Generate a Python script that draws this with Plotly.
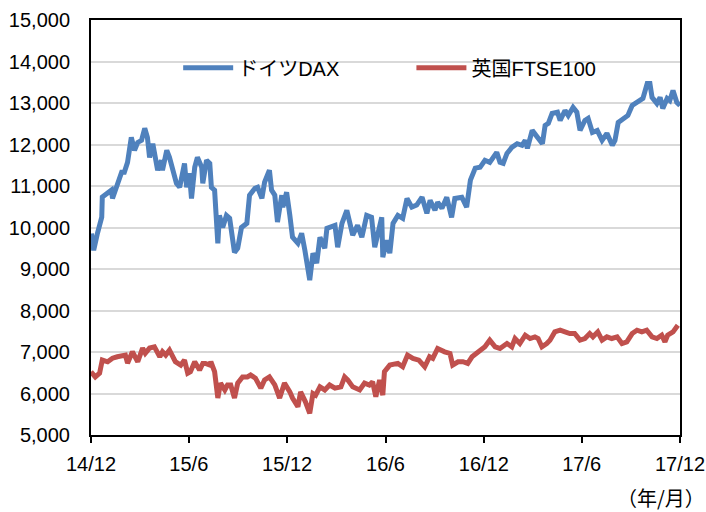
import pandas as pd
import plotly.graph_objects as go

START = "2014-12-01"

# Day offsets from 2014-12-01 and index levels
dax_days = [1, 5, 12, 20, 21, 29, 38, 40, 47, 57, 62, 68, 75, 81, 87, 94, 100, 105, 109, 115,
            124, 131, 133, 141, 146, 152, 159, 165, 169, 174, 178, 183, 187, 193, 198, 206, 208,
            215, 221, 224, 230, 236, 239, 245, 252, 258, 267, 273, 280, 290, 295, 305, 310, 318,
            323, 332, 336, 342, 347, 355, 357, 364, 370, 375, 385, 392, 398, 407, 413, 420, 426,
            435, 439, 448, 454, 459, 467, 476, 481, 487, 496, 504, 513, 522, 528, 534, 541, 543,
            550, 556, 562, 571, 580, 588, 597, 606, 616, 625, 631, 640, 645, 653, 662, 671, 677,
            690, 699, 706, 715, 724, 733, 742, 755, 761, 767, 774, 783, 793, 802, 808, 812, 821,
            830, 840, 845, 851, 858, 868, 873, 882, 888, 897, 904, 910, 919, 925, 933, 942, 951,
            960, 970, 975, 981, 990, 999, 1007, 1016, 1027, 1035, 1040, 1044, 1053, 1059, 1064,
            1072, 1077, 1083, 1090, 1096]
dax_vals = [9855, 9450, 9860, 10250, 10735, 10820, 10900, 10700, 10970, 11330, 11330, 11570,
            12170, 11860, 12050, 12100, 12390, 12170, 11690, 12020, 11380, 11620, 11380, 11860,
            11690, 11380, 11065, 10970, 11210, 11545, 10970, 11310, 10700, 11450, 11690, 11450,
            11065, 11620, 11545, 10970, 10900, 9620, 10290, 10000, 10290, 10220, 9400, 9500,
            10000, 10100, 10780, 10945, 10970, 10700, 11090, 11380, 10900, 10780, 10130, 10780,
            10490, 10850, 10290, 9765, 9620, 9860, 9450, 8730, 9380, 9140, 9765, 9500, 9980,
            10005, 10050, 9525, 10100, 10415, 10175, 9815, 10050, 9765, 10290, 10245, 9525, 9860,
            10245, 9285, 9690, 9380, 10100, 10290, 10220, 10700, 10490, 10540, 10730, 10340,
            10655, 10415, 10610, 10465, 10730, 10245, 10700, 10730, 10490, 11140, 11430, 11450,
            11620, 11570, 11810, 11570, 11545, 11785, 11930, 12020, 11980, 12100, 11905, 12340,
            12170, 12020, 12460, 12510, 12750, 12780, 12580, 12820, 12700, 12895, 12780, 12340,
            12580, 12630, 12290, 12340, 12100, 12270, 11980, 12100, 12530, 12630, 12700, 12940,
            13015, 13110, 13470, 13470, 13135, 12990, 13135, 12870, 13110, 13060, 13300, 13015,
            12940]

ftse_days = [0, 8, 16, 21, 31, 40, 49, 59, 64, 68, 77, 87, 96, 101, 109, 118, 128, 133, 139,
             146, 152, 157, 167, 174, 180, 185, 193, 202, 208, 213, 221, 223, 230, 236, 241, 249,
             254, 260, 267, 273, 282, 291, 297, 306, 316, 323, 332, 342, 351, 360, 370, 375, 385,
             390, 399, 407, 413, 418, 426, 435, 444, 454, 465, 472, 478, 487, 500, 509, 518, 524,
             530, 537, 543, 546, 556, 571, 580, 589, 599, 610, 621, 630, 636, 645, 658, 668, 673,
             683, 692, 701, 709, 720, 733, 742, 752, 761, 774, 783, 789, 798, 808, 817, 826, 832,
             839, 848, 854, 863, 873, 882, 891, 900, 910, 919, 928, 934, 943, 951, 960, 969, 979,
             988, 997, 1007, 1016, 1025, 1034, 1044, 1053, 1062, 1068, 1073, 1083, 1092]
ftse_vals = [6523, 6400, 6490, 6805, 6763, 6850, 6885, 6925, 6925, 6730, 7005, 6765, 7095,
             6970, 7095, 7125, 6885, 7005, 6925, 7045, 6885, 6765, 6685, 6805, 6490, 6525, 6765,
             6565, 6725, 6725, 6685, 6765, 6525, 5890, 6250, 6085, 6205, 6205, 5890, 6250, 6400,
             6400, 6445, 6370, 6130, 6325, 6400, 6205, 5890, 6250, 6040, 5890, 5680, 6040, 5800,
             5520, 6000, 5960, 6160, 6085, 6205, 6130, 6160, 6400, 6325, 6160, 6085, 6250, 6205,
             6280, 5920, 6325, 5960, 6525, 6685, 6725, 6645, 6925, 6845, 6805, 6645, 6885, 6845,
             7085, 7005, 6965, 6685, 6765, 6765, 6725, 6885, 7005, 7125, 7285, 7125, 7085, 7205,
             7125, 7325, 7205, 7405, 7325, 7365, 7325, 7125, 7205, 7285, 7485, 7525, 7485, 7445,
             7445, 7285, 7325, 7445, 7365, 7485, 7285, 7365, 7325, 7365, 7205, 7245, 7445, 7525,
             7485, 7525, 7365, 7325, 7405, 7245, 7405, 7485, 7645]

tick_dates = ["2014-12-01", "2015-06-01", "2015-12-01", "2016-06-01", "2016-12-01",
              "2017-06-01", "2017-12-01"]
tick_text = ["14/12", "15/6", "15/12", "16/6", "16/12", "17/6", "17/12"]

start = pd.Timestamp(START)
dax_x = [start + pd.Timedelta(days=d) for d in dax_days]
ftse_x = [start + pd.Timedelta(days=d) for d in ftse_days]

FONT = "Liberation Sans, Arial, Noto Sans CJK JP, sans-serif"
CJK = "Noto Sans CJK SC"

fig = go.Figure()
fig.add_trace(go.Scatter(x=dax_x, y=dax_vals, mode="lines", name="ドイツDAX",
                         line=dict(color="#4F81BD", width=5), legend="legend",
                         showlegend=True))
fig.add_trace(go.Scatter(x=ftse_x, y=ftse_vals, mode="lines", name="英国FTSE100",
                         line=dict(color="#C0504D", width=5), legend="legend2",
                         showlegend=True))

fig.update_layout(
    width=706, height=512,
    margin=dict(l=91, r=26, t=20, b=77),
    paper_bgcolor="white", plot_bgcolor="white",
    showlegend=True,
    font=dict(family=FONT, size=20, color="#000000"),
    legend=dict(x=0.148, y=0.885, xanchor="left", yanchor="middle", itemwidth=50,
                bgcolor="rgba(0,0,0,0)", font=dict(size=20, family=FONT)),
    legend2=dict(x=0.544, y=0.885, xanchor="left", yanchor="middle", itemwidth=50,
                 bgcolor="rgba(0,0,0,0)", font=dict(size=20, family=FONT)),
    xaxis=dict(type="date", range=["2014-12-01", "2017-12-01"],
               tickvals=tick_dates, ticktext=tick_text, automargin=False,
               showgrid=False, showline=True, linecolor="black", linewidth=2,
               mirror=True, ticks="outside", ticklen=6, tickwidth=2, tickcolor="black",
               ticklabelstandoff=4, zeroline=False),
    yaxis=dict(range=[5000, 15000], dtick=1000, tickformat=",", automargin=False,
               showgrid=True, gridcolor="#D9D9D9", gridwidth=1.5,
               showline=True, linecolor="black", linewidth=2, mirror=True,
               ticks="", ticklabelstandoff=15, zeroline=False),
    annotations=[dict(text="（年/月）", xref="paper", yref="paper", x=1.045, y=-0.15,
                      xanchor="right", yanchor="middle", showarrow=False,
                      font=dict(size=20, family=CJK))],
)

fig.write_html("out.html", config={"displayModeBar": False})
